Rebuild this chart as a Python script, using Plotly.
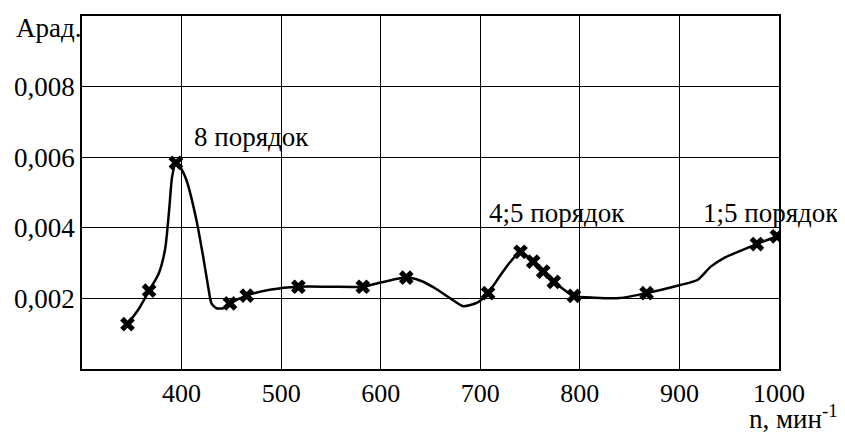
import plotly.graph_objects as go

# measured points (markers)
marker_n = [345.7, 367.4, 394.3, 448.6, 465.4, 517.3, 582, 625.7, 707.8, 740.4,
            753.1, 763.2, 773.9, 794, 867, 977.8, 997.9]
marker_a = [0.00127, 0.00222, 0.00584, 0.00186, 0.00208, 0.00233, 0.00233, 0.00259,
            0.00215, 0.00332, 0.00304, 0.00276, 0.00247, 0.00207, 0.00215, 0.00354, 0.00376]

# smooth curve
curve_n = [345.7, 357, 367.4, 377, 383.5, 387.5, 390.5, 394.3, 399, 405, 415, 421.7,
           426.7, 430, 435, 441.8, 448.6, 465.4, 490, 517.3, 550, 582, 600, 625.7, 640,
           655, 670, 683, 697, 707.8, 720, 730, 740.4, 753.1, 763.2, 773.9, 794, 815, 840,
           867, 901, 918, 931.5, 945, 960, 977.8, 997.9]
curve_a = [0.00127, 0.00170, 0.00222, 0.0027, 0.0034, 0.0045, 0.00545, 0.00584, 0.0057,
           0.00534, 0.00421, 0.00318, 0.00233, 0.00186, 0.00172, 0.00172, 0.00186, 0.00208,
           0.00225, 0.00233, 0.00233, 0.00233, 0.00245, 0.00259, 0.00250, 0.00228, 0.00200,
           0.00178, 0.00188, 0.00215, 0.00265, 0.00303, 0.00332, 0.00304, 0.00276, 0.00247,
           0.00207, 0.00202, 0.00201, 0.00215, 0.00238, 0.00252, 0.0029, 0.00315, 0.00333,
           0.00354, 0.00376]

x_ticks = [400, 500, 600, 700, 800, 900, 1000]
y_ticks = [0.002, 0.004, 0.006, 0.008]
y_tick_text = ["0,002", "0,004", "0,006", "0,008"]

FONT = "'Liberation Serif', 'Times New Roman', 'DejaVu Serif', serif"

fig = go.Figure()
fig.add_trace(go.Scatter(x=curve_n, y=curve_a, mode="lines",
                         line=dict(color="black", width=2.5, shape="spline", smoothing=0.6),
                         hoverinfo="skip"))
fig.add_trace(go.Scatter(x=marker_n, y=marker_a, mode="markers",
                         marker=dict(symbol="x", size=13, color="black",
                                     line=dict(width=0))))

fig.update_layout(
    width=837, height=429,
    margin=dict(l=74, r=66, t=6, b=67.5),
    paper_bgcolor="white", plot_bgcolor="white",
    showlegend=False,
    font=dict(family=FONT, size=26, color="black"),
    xaxis=dict(range=[300, 1000], tickvals=x_ticks, showgrid=True, gridcolor="black",
               gridwidth=1.2, showline=True, linecolor="black", linewidth=1.5, mirror=True,
               zeroline=False, ticks="", ticklen=0,
               tickfont=dict(family=FONT, size=26, color="black")),
    yaxis=dict(range=[0, 0.01], tickvals=y_ticks, ticktext=y_tick_text, showgrid=True,
               gridcolor="black", gridwidth=1.2, showline=True, linecolor="black",
               linewidth=1.5, mirror=True, zeroline=False, ticks="", ticklen=0,
               tickfont=dict(family=FONT, size=27, color="black")),
)

ann_font = dict(family=FONT, size=27, color="black")
fig.add_annotation(x=410, y=0.00656, xref="x", yref="y", text="8 порядок", showarrow=False,
                   xanchor="left", yanchor="middle", font=ann_font)
fig.add_annotation(x=706.8, y=0.00442, xref="x", yref="y", text="4;5 порядок", showarrow=False,
                   xanchor="left", yanchor="middle", font=ann_font)
fig.add_annotation(x=921.4, y=0.00442, xref="x", yref="y", text="1;5 порядок", showarrow=False,
                   xanchor="left", yanchor="middle", font=ann_font)
fig.add_annotation(x=0, y=0.00965, xref="paper", yref="y", text="Арад.", showarrow=False,
                   xanchor="right", yanchor="middle", xshift=1, font=ann_font)
fig.add_annotation(x=0.9536, y=-0.19, xref="paper", yref="paper",
                   text="n, мин<sup>-1</sup>", showarrow=False, xanchor="left",
                   yanchor="bottom", font=ann_font)

fig.write_html("out.html")
